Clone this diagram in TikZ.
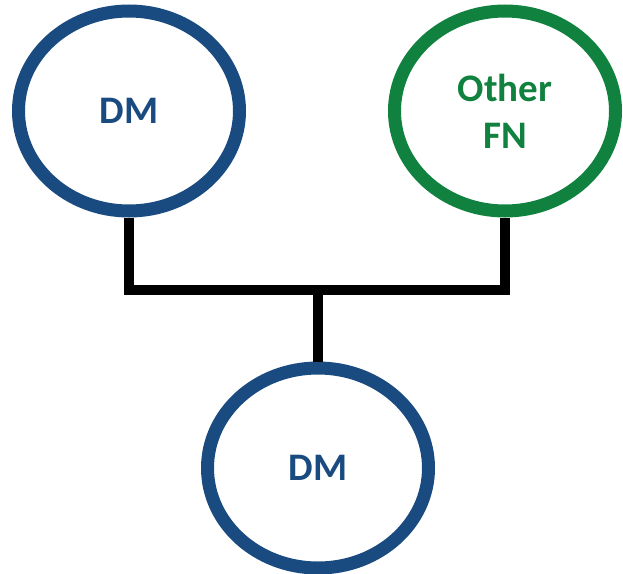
\documentclass[tikz,border=0pt]{standalone}
\usepackage{fontspec}
\setmainfont{Carlito}
\usetikzlibrary{shapes.geometric}
\definecolor{dmblue}{HTML}{1A4B80}
\definecolor{fngreen}{HTML}{10813F}
\tikzset{
  circ/.style={ellipse, draw=#1, text=#1, line width=13pt, minimum width=221pt, minimum height=200pt, inner sep=0pt, align=center, font=\fontsize{39}{47}\selectfont\bfseries},
  conn/.style={draw=black, line width=10pt}
}
\begin{document}
\begin{tikzpicture}[x=1pt,y=-1pt]
\useasboundingbox (0,0) rectangle (623,573);
\node[circ=dmblue] (dm1) at (129,111) {DM};
\node[circ=fngreen] (fn) at (505,111) {Other\\FN};
\node[circ=dmblue] (dm2) at (318,468) {DM};
\coordinate (j) at (318,290);
\draw[conn] (dm1.south) |- (j) -| (fn.south);
\draw[conn] (j) -- (dm2.north);
\end{tikzpicture}
\end{document}
